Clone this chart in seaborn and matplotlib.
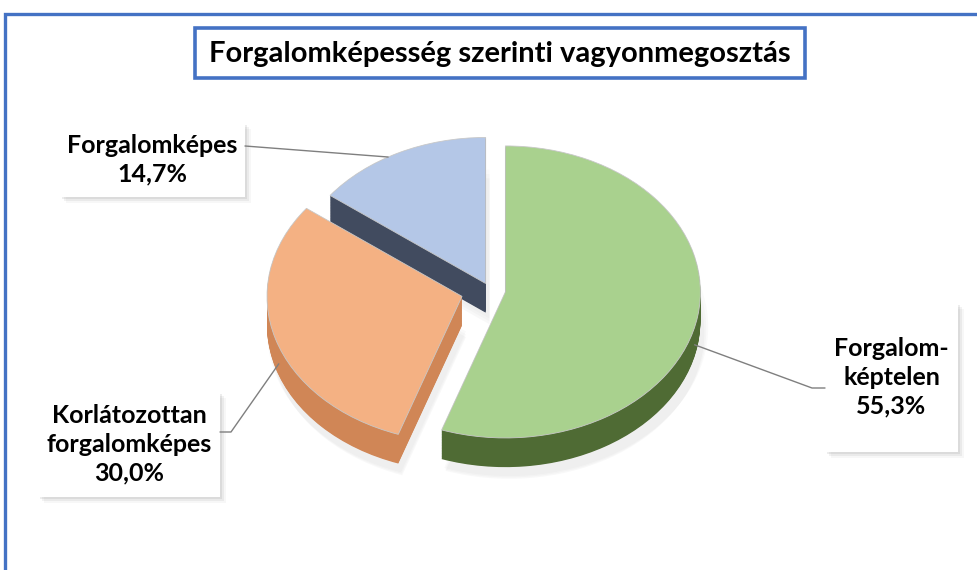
import numpy as np
import matplotlib
matplotlib.use("Agg")
import matplotlib.pyplot as plt
from matplotlib.patches import Rectangle
from matplotlib.lines import Line2D
import seaborn as sns

# ---- data ----
categories = ["Forgalom-\nképtelen", "Korlátozottan\nforgalomképes", "Forgalomképes"]
shares = [55.3, 30.0, 14.7]
pct_labels = ["55,3%", "30,0%", "14,7%"]
title = "Forgalomképesség szerinti vagyonmegosztás"

sns.set_theme(style="white")
plt.rcParams['font.family'] = ['Lato', 'DejaVu Sans']

top_colors = ["#A9D18E", "#F4B183", "#B4C7E7"]
side_colors = ["#4F6B34", "#D08656", "#414B5F"]
explode = [0.08, 0.15, 0.05]

W, H = 977, 570
fig = plt.figure(figsize=(W / 100, H / 100), dpi=100)
fig.patch.set_facecolor("white")
ax = fig.add_axes([0, 0, 1, 1])

def fx(x):
    return x / W

def fy(y):
    return 1 - y / H

# pixel scale: 1 data unit = rx px horizontally, ry px vertically
rx, ry = 195.0, 146.0
cx_px, cy_px = 490.0, 290.0
depth = 0.20
nsteps = 40

# soft shadow under the pie
for k, al in enumerate((0.04, 0.04, 0.05)):
    ax.pie(shares, colors=["#808080"] * 3, startangle=90, counterclock=False,
           explode=explode, center=(0.02, -depth - 0.04 - 0.02 * k),
           radius=1.02 - 0.01 * k, wedgeprops=dict(linewidth=0, alpha=al))

# extruded sides
for k in range(nsteps, 0, -1):
    ax.pie(shares, colors=side_colors, startangle=90, counterclock=False,
           explode=explode, center=(0, -depth * k / nsteps),
           wedgeprops=dict(linewidth=0))
# top faces
wedges, _ = ax.pie(shares, colors=top_colors, startangle=90, counterclock=False,
                   explode=explode, center=(0, 0),
                   wedgeprops=dict(linewidth=0.6, edgecolor="#C8C8C8"))

ax.set_aspect("auto")
ax.set_xlim(-cx_px / rx, (W - cx_px) / rx)
ax.set_ylim(-(H - cy_px) / ry, cy_px / ry)
ax.axis("off")

# outer chart border
fig.add_artist(Rectangle((fx(5), fy(H + 10)), 1.1, (H + 10 - 14) / H,
                         transform=fig.transFigure, fill=False,
                         edgecolor="#4472C4", linewidth=2.4))

# title box
fig.add_artist(Rectangle((fx(195), fy(78)), (805 - 195) / W, (78 - 28) / H,
                         transform=fig.transFigure, facecolor="white",
                         edgecolor="#4472C4", linewidth=2.6))
fig.text(fx(500), fy(54), title, ha="center", va="center",
         fontsize=21, fontweight="bold", color="black")

def wedge_point(i, ang_deg, r=1.0, drop=0.0):
    w = wedges[i]
    c = w.center
    a = np.deg2rad(ang_deg)
    x = c[0] + r * np.cos(a)
    y = c[1] + r * np.sin(a) - drop
    px, py = ax.transData.transform((x, y))
    return px / W, py / H

def label_box(x0, y0, x1, y1, text):
    # soft shadow
    for off, al in ((6, 0.06), (4, 0.10), (2, 0.14)):
        fig.add_artist(Rectangle((fx(x0 + off), fy(y1 + off)), (x1 - x0) / W,
                                 (y1 - y0) / H, transform=fig.transFigure,
                                 facecolor="#808080", edgecolor="none", alpha=al))
    fig.add_artist(Rectangle((fx(x0), fy(y1)), (x1 - x0) / W, (y1 - y0) / H,
                             transform=fig.transFigure, facecolor="white",
                             edgecolor="none"))
    fig.text(fx((x0 + x1) / 2), fy((y0 + y1) / 2), text, ha="center",
             va="center", fontsize=18, fontweight="bold", color="black",
             linespacing=1.3)

line_kw = dict(color="#7F7F7F", linewidth=1.0, transform=fig.transFigure)

# Forgalomképes (blue)
label_box(60, 123, 245, 197, f"{categories[2]}\n{pct_labels[2]}")
p = wedge_point(2, 120, r=1.0)
fig.add_artist(Line2D([fx(245), p[0]], [fy(146), p[1]], **line_kw))

# Korlátozottan forgalomképes (orange)
label_box(38, 392, 220, 497, f"{categories[1]}\n{pct_labels[1]}")
p = wedge_point(1, 200, r=1.0, drop=0.12)
fig.add_artist(Line2D([fx(220), fx(231), p[0]], [fy(432), fy(432), p[1]], **line_kw))

# Forgalomképtelen (green)
label_box(825, 303, 958, 452, f"{categories[0]}\n{pct_labels[0]}")
p = wedge_point(0, -14, r=1.0, drop=0.12)
fig.add_artist(Line2D([fx(825), fx(812), p[0]], [fy(388), fy(388), p[1]], **line_kw))

fig.savefig("out.png", dpi=100, facecolor="white")
